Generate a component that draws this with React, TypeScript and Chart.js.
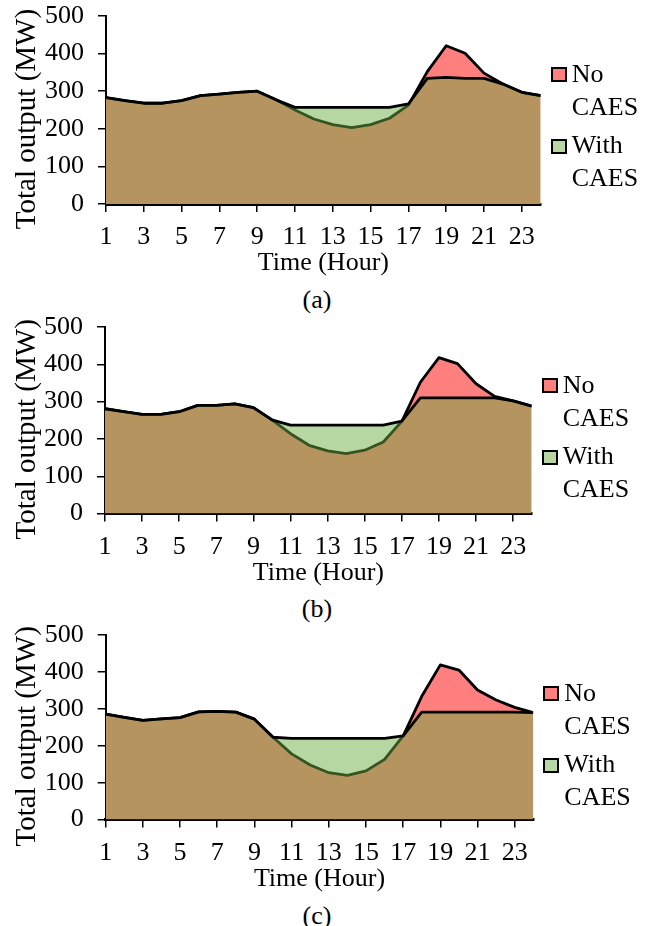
import React, { useEffect, useRef } from 'react';
import { Chart, registerables } from 'chart.js';

Chart.register(...registerables);

// ---------- data ----------
const HOURS = [1, 2, 3, 4, 5, 6, 7, 8, 9, 10, 11, 12, 13, 14, 15, 16, 17, 18, 19, 20, 21, 22, 23, 24];
const X_TICKS = [1, 3, 5, 7, 9, 11, 13, 15, 17, 19, 21, 23];
const Y_TICKS = [0, 100, 200, 300, 400, 500];

const A_NO_CAES = [283, 275, 268, 268, 275, 288, 292, 297, 300, 277, 250, 226, 211, 203, 211, 228, 263, 352, 421, 401, 348, 319, 297, 288];
const A_WITH_CAES = [283, 275, 268, 268, 275, 288, 292, 297, 300, 277, 257, 257, 257, 257, 257, 257, 266, 334, 337, 334, 334, 319, 297, 288];

const B_NO_CAES = [281, 273, 266, 266, 273, 290, 290, 294, 284, 251, 214, 183, 168, 161, 170, 192, 247, 352, 418, 402, 348, 314, 302, 288];
const B_WITH_CAES = [281, 273, 266, 266, 273, 290, 290, 294, 284, 251, 237, 237, 237, 237, 237, 237, 248, 310, 310, 310, 310, 310, 302, 288];

const C_NO_CAES = [286, 277, 269, 273, 276, 292, 293, 291, 272, 223, 178, 148, 127, 120, 132, 163, 227, 334, 419, 405, 351, 324, 304, 290];
const C_WITH_CAES = [286, 277, 269, 273, 276, 292, 293, 291, 272, 223, 220, 220, 220, 220, 220, 220, 227, 291, 291, 291, 291, 291, 291, 290];

const CAPTIONS = ['(a)', '(b)', '(c)'];
const SERIES_NAMES = ['No CAES', 'With CAES'];
const LEGEND_LINES = [['No', 'CAES'], ['With', 'CAES']];
const X_TITLE = 'Time (Hour)';
const Y_TITLE = 'Total output (MW)';

// ---------- styling / layout ----------
const FONT = '"Liberation Serif", "Times New Roman", serif';
const RED = '#ff7f7f';
const GREEN_ALPHA = 'rgba(107,171,66,0.49)';
const GREEN_SWATCH = '#b7d6a3';
const TICK_FONT_SIZE = 26;
const LINE_W = 2.8;

const GEOMS = [
  { top: 16, bottom: 204, left: 106, right: 540.7 },
  { top: 326.7, bottom: 513.3, left: 105, right: 531.7 },
  { top: 635, bottom: 819.6, left: 105.7, right: 533.3 },
];

Chart.defaults.font.family = FONT;
Chart.defaults.color = '#000';

const yTitlePlugin = {
  id: 'yTitle',
  afterDraw(chart: any, _args: any, opts: any) {
    const { ctx, chartArea } = chart;
    ctx.save();
    ctx.translate(opts.x, (chartArea.top + chartArea.bottom) / 2 + opts.dy);
    ctx.rotate(-Math.PI / 2);
    ctx.font = `29px ${FONT}`;
    ctx.fillStyle = '#000';
    ctx.textAlign = 'center';
    ctx.textBaseline = 'middle';
    ctx.fillText(opts.text, 0, 0);
    ctx.restore();
  },
};

type PanelProps = { no: number[]; withC: number[]; g: { top: number; bottom: number; left: number; right: number }; caption: string };

function Panel({ no, withC, g, caption }: PanelProps) {
  const ref = useRef<HTMLCanvasElement>(null);
  const canvasTop = g.top - 16;
  const H = Math.round(g.bottom - g.top + 96);
  const xScaleH = H - 16 - (g.bottom - g.top);

  useEffect(() => {
    const chart = new Chart(ref.current as HTMLCanvasElement, {
      type: 'line',
      data: {
        datasets: [
          {
            label: SERIES_NAMES[1],
            data: HOURS.map((h, i) => ({ x: h, y: withC[i] })),
            fill: 'origin',
            backgroundColor: GREEN_ALPHA,
            borderColor: '#000',
            borderWidth: LINE_W,
            pointRadius: 0,
            tension: 0,
            borderJoinStyle: 'round',
          },
          {
            label: SERIES_NAMES[0],
            data: HOURS.map((h, i) => ({ x: h, y: no[i] })),
            fill: 'origin',
            backgroundColor: RED,
            borderColor: '#000',
            borderWidth: LINE_W,
            pointRadius: 0,
            tension: 0,
            borderJoinStyle: 'round',
          },
        ],
      },
      options: {
        animation: false,
        responsive: false,
        events: [],
        layout: { padding: { top: 16, right: 651 - g.right, left: 0, bottom: 0 } },
        plugins: {
          legend: { display: false },
          tooltip: { enabled: false },
          filler: { drawTime: 'beforeDatasetDraw' },
          yTitle: { text: Y_TITLE, x: 27, dy: 9 },
        } as any,
        scales: {
          x: {
            type: 'linear',
            min: 1,
            max: 24,
            afterBuildTicks: (s: any) => {
              s.ticks = X_TICKS.map((v) => ({ value: v }));
            },
            afterFit: (s: any) => {
              s.height = xScaleH;
            },
            ticks: {
              autoSkip: false,
              maxRotation: 0,
              padding: 10,
              font: { size: TICK_FONT_SIZE, family: FONT },
              color: '#000',
              callback: (v: any) => String(v),
            },
            grid: { drawOnChartArea: false, drawTicks: true, tickLength: 8, color: '#000', lineWidth: 1.5 },
            border: { display: true, color: '#000', width: 3 },
            title: {
              display: true,
              text: X_TITLE,
              font: { size: 26, family: FONT },
              color: '#000',
              padding: { top: 0, bottom: 5 },
            },
          },
          y: {
            type: 'linear',
            min: 0,
            max: 500,
            afterBuildTicks: (s: any) => {
              s.ticks = Y_TICKS.map((v) => ({ value: v }));
            },
            afterFit: (s: any) => {
              s.width = g.left;
              s.paddingTop = 0;
              s.paddingBottom = 0;
            },
            ticks: {
              padding: 14,
              font: { size: TICK_FONT_SIZE, family: FONT },
              color: '#000',
              callback: (v: any) => String(v),
            },
            grid: { drawOnChartArea: false, drawTicks: true, tickLength: 8, color: '#000', lineWidth: 1.5 },
            border: { display: true, color: '#000', width: 2 },
          },
        },
      } as any,
      plugins: [yTitlePlugin],
    });
    return () => chart.destroy();
  }, []);

  const entryOffsets = [
    { sq: 51, txt: 49 },
    { sq: 123, txt: 120 },
  ];

  return (
    <>
      <canvas
        ref={ref}
        width={651}
        height={H}
        style={{ position: 'absolute', left: 0, top: canvasTop, width: 651, height: H, display: 'block' }}
      />
      {LEGEND_LINES.map((lines, k) => (
        <React.Fragment key={k}>
          <div
            style={{
              position: 'absolute',
              left: g.right + 10,
              top: g.top + entryOffsets[k].sq,
              width: 16,
              height: 15,
              boxSizing: 'border-box',
              border: '2px solid #000',
              background: k === 0 ? RED : GREEN_SWATCH,
            }}
          />
          <div
            style={{
              position: 'absolute',
              left: g.right + 31,
              top: g.top + entryOffsets[k].txt - 8,
              font: `26px ${FONT}`,
              lineHeight: '33px',
              color: '#000',
              whiteSpace: 'nowrap',
            }}
          >
            {lines.map((l, j) => (
              <div key={j}>{l}</div>
            ))}
          </div>
        </React.Fragment>
      ))}
      <div
        style={{
          position: 'absolute',
          left: 267,
          width: 100,
          top: g.bottom + 87 - 4,
          textAlign: 'center',
          font: `26px ${FONT}`,
          lineHeight: '26px',
          color: '#000',
        }}
      >
        {caption}
      </div>
    </>
  );
}

export default function App() {
  const series = [
    [A_NO_CAES, A_WITH_CAES],
    [B_NO_CAES, B_WITH_CAES],
    [C_NO_CAES, C_WITH_CAES],
  ];
  return (
    <div style={{ position: 'absolute', left: 0, top: 0, width: 651, height: 926, background: '#fff', overflow: 'hidden' }}>
      {series.map((s, i) => (
        <Panel key={i} no={s[0]} withC={s[1]} g={GEOMS[i]} caption={CAPTIONS[i]} />
      ))}
    </div>
  );
}
